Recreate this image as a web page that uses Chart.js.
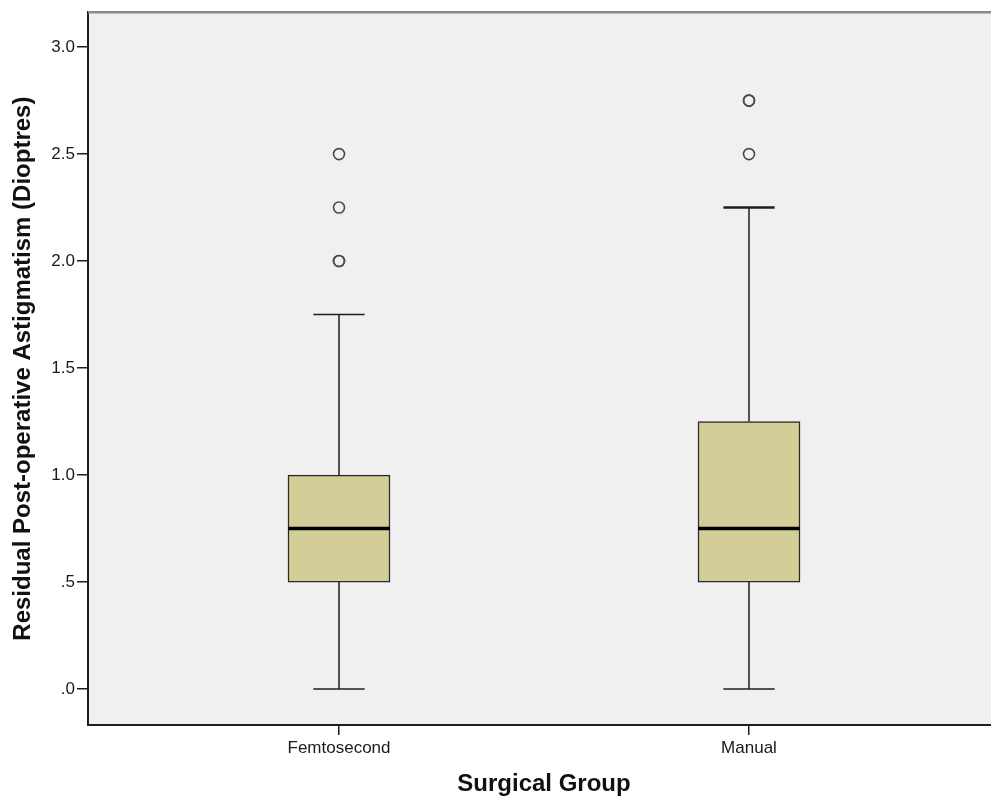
<!DOCTYPE html>
<html>
<head>
<meta charset="utf-8">
<script src="https://cdn.jsdelivr.net/npm/chart.js@4/dist/chart.umd.min.js"></script>
<style>
  html, body { margin: 0; padding: 0; background: #ffffff; overflow: hidden; }
  #wrap { width: 1000px; height: 805px; }
</style>
</head>
<body>
<div id="wrap"><canvas id="box" width="1000" height="805"></canvas></div>
<script>
// Residual astigmatism by surgical group (box-and-whisker summary)
const groups = ['Femtosecond', 'Manual'];
const whiskerLow = [0.0, 0.0];
const quartile1 = [0.5, 0.5];
const medians = [0.75, 0.75];
const quartile3 = [1.0, 1.25];
const whiskerHigh = [1.75, 2.25];
// repeated values are cases that sit on the same spot
const outliersFemtosecond = [2.0, 2.0, 2.25, 2.5];
const outliersManual = [2.5, 2.75, 2.75];
const yTickValues = [0, 0.5, 1.0, 1.5, 2.0, 2.5, 3.0];
const yTickLabels = ['.0', '.5', '1.0', '1.5', '2.0', '2.5', '3.0'];

// drawing styles
const FONT = "'Liberation Sans', Arial, sans-serif";
const BOX_FILL = '#d3ce98';
const INK = '#1e1e1e';
const BOX_PX = 102;        // box width in pixels
const CAP_HALF = 0.0625;   // whisker cap half-width in x units
const capLineWidths = [1.5, 2.5];

const outlierPoints = [];
outliersFemtosecond.forEach(v => outlierPoints.push({ x: 0, y: v }));
outliersManual.forEach(v => outlierPoints.push({ x: 1, y: v }));

const boxData = groups.map((g, i) => ({ x: i, y: [quartile1[i], quartile3[i]] }));

const plotFrame = {
  id: 'plotFrame',
  beforeDraw(chart) {
    const { ctx, chartArea: a } = chart;
    ctx.save();
    ctx.fillStyle = '#f0f0f0';
    ctx.fillRect(a.left, a.top, a.right - a.left, a.bottom - a.top);
    ctx.restore();
  },
  afterDraw(chart) {
    const { ctx, chartArea: a } = chart;
    ctx.save();
    ctx.strokeStyle = '#8a8a8a';
    ctx.lineWidth = 2.5;
    ctx.beginPath();
    ctx.moveTo(a.left, a.top);
    ctx.lineTo(a.right, a.top);
    ctx.stroke();
    ctx.restore();
  }
};

const whiskers = {
  id: 'whiskers',
  beforeDatasetsDraw(chart) {
    const { ctx } = chart;
    const xs = chart.scales.x, ys = chart.scales.y;
    ctx.save();
    ctx.strokeStyle = INK;
    groups.forEach((g, i) => {
      const cx = xs.getPixelForValue(i);
      const l = xs.getPixelForValue(i - CAP_HALF), r = xs.getPixelForValue(i + CAP_HALF);
      const yLo = ys.getPixelForValue(whiskerLow[i]);
      const yHi = ys.getPixelForValue(whiskerHigh[i]);
      const yQ1 = ys.getPixelForValue(quartile1[i]);
      const yQ3 = ys.getPixelForValue(quartile3[i]);
      ctx.lineWidth = 1.5;
      ctx.beginPath();
      ctx.moveTo(cx, yQ3); ctx.lineTo(cx, yHi);
      ctx.moveTo(cx, yQ1); ctx.lineTo(cx, yLo);
      ctx.moveTo(l, yLo); ctx.lineTo(r, yLo);
      ctx.stroke();
      ctx.lineWidth = capLineWidths[i];
      ctx.beginPath();
      ctx.moveTo(l, yHi); ctx.lineTo(r, yHi);
      ctx.stroke();
    });
    ctx.restore();
  },
  afterDatasetsDraw(chart) {
    const { ctx } = chart;
    const xs = chart.scales.x, ys = chart.scales.y;
    ctx.save();
    ctx.strokeStyle = '#000000';
    ctx.lineWidth = 3.5;
    groups.forEach((g, i) => {
      const cx = xs.getPixelForValue(i);
      const y = ys.getPixelForValue(medians[i]);
      ctx.beginPath();
      ctx.moveTo(cx - BOX_PX / 2, y);
      ctx.lineTo(cx + BOX_PX / 2, y);
      ctx.stroke();
    });
    ctx.restore();
  }
};

new Chart(document.getElementById('box'), {
  type: 'scatter',
  data: {
    datasets: [
      {
        type: 'bar',
        data: boxData,
        backgroundColor: BOX_FILL,
        borderColor: '#2a2a2a',
        borderWidth: 1.5,
        borderSkipped: false,
        barThickness: BOX_PX,
        order: 2
      },
      {
        type: 'scatter',
        data: outlierPoints,
        pointStyle: 'circle',
        pointRadius: 5.5,
        pointBorderWidth: 1.6,
        pointBorderColor: '#4a4a4a',
        pointBackgroundColor: 'rgba(0,0,0,0)',
        clip: false,
        order: 1
      }
    ]
  },
  options: {
    responsive: false,
    animation: false,
    layout: { autoPadding: false, padding: { top: 10, left: 0, right: 0, bottom: 0 } },
    plugins: { legend: { display: false }, tooltip: { enabled: false } },
    scales: {
      x: {
        type: 'linear',
        min: -0.6122,
        max: 1.6122,
        offset: false,
        afterBuildTicks: (axis) => { axis.ticks = groups.map((g, i) => ({ value: i })); },
        afterFit: (axis) => { axis.height = 80; },
        grid: { offset: false, drawOnChartArea: false, drawTicks: true, tickLength: 10, color: INK, lineWidth: 1.5 },
        border: { display: true, color: INK, width: 2 },
        ticks: {
          padding: 3,
          color: '#1a1a1a',
          font: { family: FONT, size: 17 },
          maxRotation: 0,
          autoSkip: false,
          callback: (v) => groups[v] ?? ''
        },
        title: {
          display: true,
          text: 'Surgical Group',
          color: '#111',
          font: { family: FONT, size: 24, weight: 'bold' },
          padding: { top: 0, bottom: 6 }
        }
      },
      y: {
        type: 'linear',
        min: -0.168,
        max: 3.163,
        afterBuildTicks: (axis) => { axis.ticks = yTickValues.map(v => ({ value: v })); },
        afterFit: (axis) => { axis.width = 88; },
        grid: { drawOnChartArea: false, drawTicks: true, tickLength: 11, color: INK, lineWidth: 1.5 },
        border: { display: true, color: INK, width: 2 },
        ticks: {
          padding: 2,
          color: '#1a1a1a',
          font: { family: FONT, size: 17 },
          autoSkip: false,
          callback: (v) => {
            const k = yTickValues.indexOf(v);
            return k >= 0 ? yTickLabels[k] : '';
          }
        },
        title: {
          display: true,
          text: 'Residual Post-operative Astigmatism (Dioptres)',
          color: '#111',
          font: { family: FONT, size: 24, weight: 'bold' },
          padding: { top: 9, bottom: 0 }
        }
      }
    }
  },
  plugins: [plotFrame, whiskers]
});
</script>
</body>
</html>
